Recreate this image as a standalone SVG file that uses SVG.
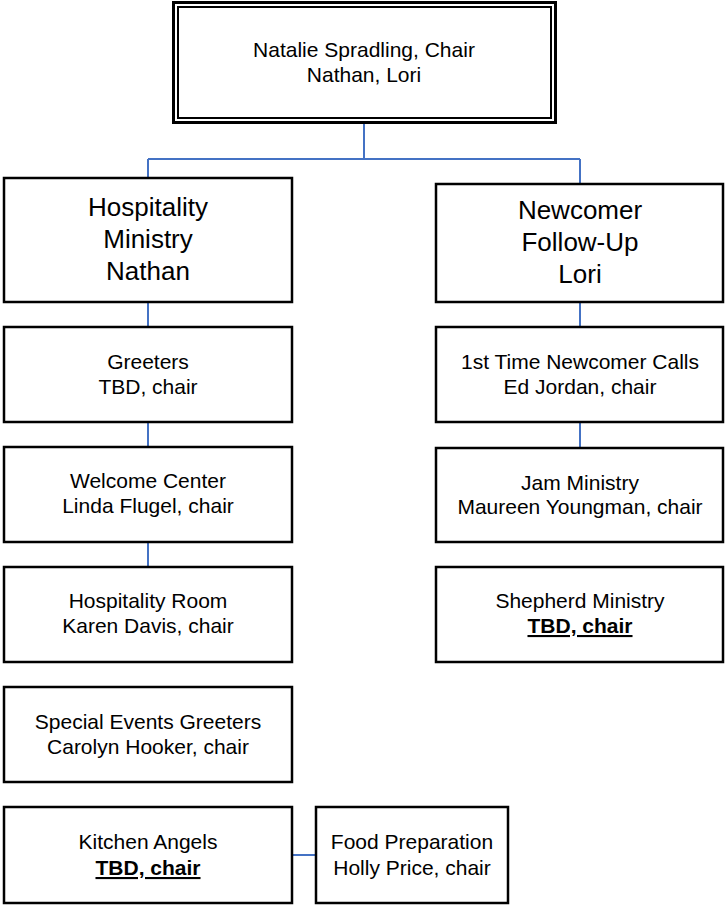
<svg xmlns="http://www.w3.org/2000/svg" width="725" height="905" viewBox="0 0 725 905">
<style>
.box{fill:#fff;stroke:#000;stroke-width:2.5}
.t{font-family:"Liberation Sans",Arial,sans-serif;font-size:21px;fill:#000;text-anchor:middle}
.big{font-size:26px}
.b{font-weight:bold;text-decoration:underline}
.c{fill:none;stroke:#4472C4;stroke-width:2}
</style>
<rect width="725" height="905" fill="#fff"/>
<g id="connectors">
<path class="c" d="M364,123 V159 M148,159 H580 M148,159 V177 M580,159 V183"/>
<path class="c" d="M148,303 V327 M148,423 V446 M148,543 V566"/>
<path class="c" d="M580,303 V326 M580,423 V447"/>
<path class="c" d="M293,855 H315"/>
</g>
<g id="chair">
<rect x="173.5" y="2.5" width="382" height="120" fill="#fff" stroke="#000" stroke-width="3"/>
<rect x="178" y="7" width="373" height="111" fill="none" stroke="#000" stroke-width="2"/>
<text class="t" x="364" y="57">Natalie Spradling, Chair</text>
<text class="t" x="364" y="82">Nathan, Lori</text>
</g>
<g id="hospitality">
<rect class="box" x="4" y="178" width="288" height="124"/>
<text class="t big" x="148" y="216">Hospitality</text>
<text class="t big" x="148" y="248">Ministry</text>
<text class="t big" x="148" y="280">Nathan</text>
</g>
<g id="newcomer">
<rect class="box" x="436" y="184" width="287" height="118"/>
<text class="t big" x="580" y="219">Newcomer</text>
<text class="t big" x="580" y="251">Follow-Up</text>
<text class="t big" x="580" y="283">Lori</text>
</g>
<g id="greeters">
<rect class="box" x="4" y="327" width="288" height="95"/>
<text class="t" x="148" y="369">Greeters</text>
<text class="t" x="148" y="394">TBD, chair</text>
</g>
<g id="welcome">
<rect class="box" x="4" y="447" width="288" height="95"/>
<text class="t" x="148" y="488">Welcome Center</text>
<text class="t" x="148" y="513">Linda Flugel, chair</text>
</g>
<g id="hospitality-room">
<rect class="box" x="4" y="567" width="288" height="95"/>
<text class="t" x="148" y="608">Hospitality Room</text>
<text class="t" x="148" y="633">Karen Davis, chair</text>
</g>
<g id="special-events">
<rect class="box" x="4" y="687" width="288" height="95"/>
<text class="t" x="148" y="729">Special Events Greeters</text>
<text class="t" x="148" y="754">Carolyn Hooker, chair</text>
</g>
<g id="kitchen-angels">
<rect class="box" x="4" y="807" width="288" height="96"/>
<text class="t" x="148" y="849">Kitchen Angels</text>
<text class="t b" x="148" y="875">TBD, chair</text>
</g>
<g id="food-prep">
<rect class="box" x="316" y="807" width="192" height="96"/>
<text class="t" x="412" y="849">Food Preparation</text>
<text class="t" x="412" y="875">Holly Price, chair</text>
</g>
<g id="first-time">
<rect class="box" x="436" y="327" width="287" height="95"/>
<text class="t" x="580" y="369">1st Time Newcomer Calls</text>
<text class="t" x="580" y="394">Ed Jordan, chair</text>
</g>
<g id="jam">
<rect class="box" x="436" y="448" width="287" height="94"/>
<text class="t" x="580" y="490">Jam Ministry</text>
<text class="t" x="580" y="514">Maureen Youngman, chair</text>
</g>
<g id="shepherd">
<rect class="box" x="436" y="567" width="287" height="95"/>
<text class="t" x="580" y="608">Shepherd Ministry</text>
<text class="t b" x="580" y="633">TBD, chair</text>
</g>
</svg>
